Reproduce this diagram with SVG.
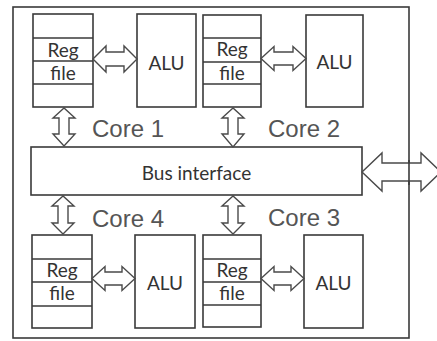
<svg xmlns="http://www.w3.org/2000/svg" width="437" height="341" viewBox="0 0 437 341">
<style>
.box{fill:#fff;stroke:#3a3a3a;stroke-width:1.6}
.ln{stroke:#3a3a3a;stroke-width:1.6;fill:none}
.arr{fill:#fff;stroke:#4a4a4a;stroke-width:1.4;stroke-linejoin:miter}
.lbl{font-family:Lato,"Open Sans",sans-serif;font-size:19px;fill:#333;text-anchor:middle}
.core{font-family:"Liberation Sans",Arial,sans-serif;font-size:24px;fill:#555}
</style>
<rect width="437" height="341" fill="#fff"/>
<g id="chip"><rect class="box" x="13" y="7" width="396" height="331"/></g>
<g id="bus"><rect class="box" x="31" y="147" width="331" height="48"/><text class="lbl" x="196.5" y="180" font-size="19.5">Bus interface</text></g>
<g id="core1">
<rect class="box" x="33" y="14" width="60" height="93"/>
<line class="ln" x1="33" y1="38" x2="93" y2="38"/><line class="ln" x1="33" y1="61" x2="93" y2="61"/><line class="ln" x1="33" y1="84" x2="93" y2="84"/>
<text class="lbl" x="63" y="57">Reg</text><text class="lbl" x="63" y="80">file</text>
<rect class="box" x="137" y="14" width="59" height="93"/><text class="lbl" x="166.5" y="70">ALU</text>
<text class="core" x="92" y="137">Core 1</text>
</g>
<g id="core2">
<rect class="box" x="203" y="15" width="58" height="92"/>
<line class="ln" x1="203" y1="38" x2="261" y2="38"/><line class="ln" x1="203" y1="62" x2="261" y2="62"/><line class="ln" x1="203" y1="84" x2="261" y2="84"/>
<text class="lbl" x="232" y="56">Reg</text><text class="lbl" x="232" y="80">file</text>
<rect class="box" x="306" y="15" width="57" height="92"/><text class="lbl" x="334.5" y="69">ALU</text>
<text class="core" x="268" y="137">Core 2</text>
</g>
<g id="core4">
<rect class="box" x="32" y="235" width="60" height="93"/>
<line class="ln" x1="32" y1="259" x2="92" y2="259"/><line class="ln" x1="32" y1="282" x2="92" y2="282"/><line class="ln" x1="32" y1="306" x2="92" y2="306"/>
<text class="lbl" x="62" y="277">Reg</text><text class="lbl" x="62" y="300">file</text>
<rect class="box" x="135" y="235" width="60" height="93"/><text class="lbl" x="165" y="290">ALU</text>
<text class="core" x="92" y="227">Core 4</text>
</g>
<g id="core3">
<rect class="box" x="203" y="235" width="58" height="92"/>
<line class="ln" x1="203" y1="259" x2="261" y2="259"/><line class="ln" x1="203" y1="282" x2="261" y2="282"/><line class="ln" x1="203" y1="305" x2="261" y2="305"/>
<text class="lbl" x="232" y="277">Reg</text><text class="lbl" x="232" y="300">file</text>
<rect class="box" x="304" y="235" width="59" height="93"/><text class="lbl" x="333.5" y="290">ALU</text>
<text class="core" x="268" y="226">Core 3</text>
</g>
<g id="connectors">
<polygon class="arr" points="93,59 106,46 106,52 124,52 124,46 137,59 124,72 124,66 106,66 106,72"/>
<polygon class="arr" points="261,58.5 274,46.5 274,52 293,52 293,46.5 306,58.5 293,70.5 293,65 274,65 274,70.5"/>
<polygon class="arr" points="92,278.5 105,266.5 105,272 122,272 122,266.5 135,278.5 122,290.5 122,285 105,285 105,290.5"/>
<polygon class="arr" points="261,278.5 274,266.5 274,272 291,272 291,266.5 304,278.5 291,290.5 291,285 274,285 274,290.5"/>
<polygon class="arr" points="64,108 53,118 59,118 59,134 53,134 64,146 75,134 69,134 69,118 75,118"/>
<polygon class="arr" points="233,108 222,118 228,118 228,134 222,134 233,147 244,134 238,134 238,118 244,118"/>
<polygon class="arr" points="63,196 52,206 58,206 58,223 52,223 63,234 74,223 68,223 68,206 74,206"/>
<polygon class="arr" points="233,196 222,206 228,206 228,223 222,223 233,234 244,223 238,223 238,206 244,206"/>
<polygon class="arr" points="362,172 382,153 382,163 421,163 421,153 441,172 421,191 421,181 382,181 382,191"/>
<line class="ln" x1="409" y1="160" x2="409" y2="185"/>
</g>
</svg>
